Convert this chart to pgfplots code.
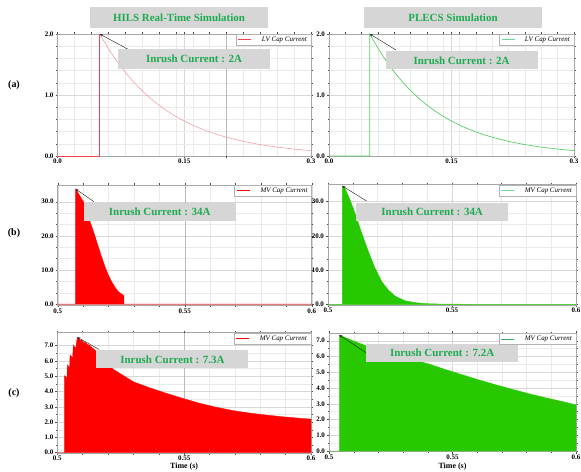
\documentclass[border=0pt]{standalone}
\usepackage{fontspec}
\setmainfont{Liberation Serif}
\usepackage{pgfplots}
\pgfplotsset{compat=1.18}
\usetikzlibrary{arrows.meta}

\definecolor{boxgray}{RGB}{214,214,214}
\definecolor{txtgreen}{RGB}{30,170,80}
\definecolor{fillred}{RGB}{255,0,0}
\definecolor{fillgreen}{RGB}{40,200,0}
\definecolor{hilsred}{rgb}{0.95,0.25,0.3}
\definecolor{hilspink}{RGB}{245,160,165}
\definecolor{plecsgreen}{RGB}{90,205,100}
\definecolor{leggreen}{RGB}{110,215,150}
\definecolor{legdkgreen}{rgb}{0.2,0.68,0.37}
\definecolor{gridminor}{RGB}{234,234,234}
\definecolor{gridmajor}{RGB}{215,215,215}
\definecolor{griddark}{RGB}{185,185,185}

\tikzset{
  note/.style={fill=boxgray, text=txtgreen, font=\fontsize{11}{12}\selectfont\bfseries,
    inner sep=0pt, minimum width=152bp, minimum height=18bp},
  arr/.style={black!85, line width=0.45pt, -{Stealth[length=3bp,width=2.4bp]}},
}

\pgfplotsset{
  panel/.style={
    scale only axis, anchor=south west, clip=false,
    axis line style={gray!70, line width=0.6pt},
    tick align=outside, major tick length=2bp, minor tick length=1.5bp,
    tick style={black!70, line width=0.4pt},
    grid=both,
    major grid style={gridmajor, line width=0.4pt},
    minor grid style={gridminor, line width=0.4pt},
    tick label style={font=\fontsize{7}{8}\selectfont\bfseries},
    xticklabel style={yshift=2.5bp},
    yticklabel style={xshift=1.5bp},
    legend style={at={(1,1)}, anchor=north east, draw=gray!60, fill=white,
      font=\fontsize{7}{8}\selectfont\itshape, inner xsep=2bp, inner ysep=0.5bp,
      /tikz/every odd column/.append style={column sep=8bp}},
    legend image code/.code={\draw[#1] (0bp,0bp) -- (13bp,0bp);},
    legend cell align=left,
  },
  apanel/.style={panel, xmin=0, xmax=0.3, ymin=0, ymax=2,
    xtick={0,0.15,0.3}, xticklabels={0.0,0.15,0.3},
    ytick={0,1,2}, yticklabels={0.0,1.0,2.0},
    minor xtick={0.02,0.04,0.06,0.08,0.1,0.12,0.14,0.16,0.18,0.2,0.22,0.24,0.26,0.28},
    minor ytick={0.2,0.4,0.6,0.8,1.2,1.4,1.6,1.8}},
  bpanel/.style={panel, xmin=0.5, xmax=0.6,
    xtick={0.5,0.55,0.6}, xticklabels={0.5,0.55,0.6},
    ytick={0,10,20,30}, yticklabels={0.0,10.0,20.0,30.0},
    minor xtick={0.51,0.52,0.53,0.54,0.56,0.57,0.58,0.59}, minor y tick num=2},
  cpanel/.style={panel, xmin=0.5, xmax=0.6,
    xtick={0.5,0.55,0.6}, xticklabels={0.5,0.55,0.6},
    ytick={0,1,2,3,4,5,6,7}, yticklabels={0.0,1.0,2.0,3.0,4.0,5.0,6.0,7.0},
    minor xtick={0.51,0.52,0.53,0.54,0.56,0.57,0.58,0.59}, minor y tick num=1,
    xlabel={Time (s)},
    xlabel style={font=\fontsize{8}{9}\selectfont\bfseries, at={(axis description cs:0.5,0)},
      anchor=north, inner sep=0pt}},
}

\begin{document}
\begin{tikzpicture}
\useasboundingbox (0,0) rectangle (581bp,472bp);

% ---------- (a) left: HILS ----------
\begin{axis}[apanel, at={(57.5bp,316bp)}, width=253.5bp, height=122bp,
  extra x ticks={0.2}, extra x tick labels={}, extra x tick style={major grid style={griddark}}]
\addlegendimage{draw=hilsred, line width=1pt}
\addlegendentry{LV Cap Current}
\addplot[draw=hilsred, line width=0.7pt, forget plot] coordinates {(0,0) (0.05,0) (0.05,2)};
\addplot[draw=hilspink, line width=0.6pt, forget plot] coordinates {
(0.05,2.0) (0.06,1.765) (0.07,1.558) (0.08,1.375) (0.09,1.213) (0.10,1.071)
(0.11,0.945) (0.12,0.834) (0.13,0.736) (0.14,0.649) (0.15,0.573) (0.16,0.506)
(0.17,0.446) (0.18,0.394) (0.19,0.348) (0.20,0.307) (0.22,0.239) (0.24,0.186)
(0.26,0.145) (0.28,0.113) (0.30,0.088)};
\draw[arr] (rel axis cs:0.279,0.874) -- (axis cs:0.05,2);
\node[note, minimum height=20bp] at (rel axis cs:0.5385,0.795) {Inrush Current : 2A};
\end{axis}

% ---------- (a) right: PLECS ----------
\begin{axis}[apanel, at={(329bp,316bp)}, width=245bp, height=122bp]
\addlegendimage{draw=leggreen, line width=1pt}
\addlegendentry{LV Cap Current}
\addplot[draw=plecsgreen, line width=0.7pt, forget plot] coordinates {
(0,0) (0.05,0) (0.05,2.0) (0.06,1.765) (0.07,1.558) (0.08,1.375) (0.09,1.213) (0.10,1.071)
(0.11,0.945) (0.12,0.834) (0.13,0.736) (0.14,0.649) (0.15,0.573) (0.16,0.506)
(0.17,0.446) (0.18,0.394) (0.19,0.348) (0.20,0.307) (0.22,0.239) (0.24,0.186)
(0.26,0.145) (0.28,0.113) (0.30,0.088)};
\draw[arr] (rel axis cs:0.273,0.869) -- (axis cs:0.05,2);
\node[note] at (rel axis cs:0.541,0.784) {Inrush Current : 2A};
\end{axis}

% ---------- (b) left: HILS ----------
\begin{axis}[bpanel, at={(57.7bp,166.5bp)}, width=254bp, height=120.5bp, ymin=-0.4, ymax=34.9,
  extra x ticks={0.55}, extra x tick labels={}, extra x tick style={major grid style={griddark}}]
\addlegendimage{draw=fillred, line width=1pt}
\addlegendentry{MV Cap Current}
\addplot[fill=fillred, draw=fillred, line width=0.4pt, forget plot] coordinates {
(0.5,0) (0.50708,0) (0.50708,33.7) (0.5085,32.0) (0.5101,30.0) (0.5115,27.0)
(0.5127,24.2) (0.5145,20.3) (0.516,16.8) (0.5173,13.8) (0.5186,11.0) (0.5199,8.6)
(0.5212,6.6) (0.5225,5.0) (0.5238,3.7) (0.525,3.0) (0.5261,2.5) (0.5261,0) (0.6,0)} \closedcycle;
\draw[arr] (rel axis cs:0.143,0.861) -- (axis cs:0.50708,33.7);
\node[note] at (rel axis cs:0.4016,0.778) {Inrush Current : 34A};
\end{axis}

% ---------- (b) right: PLECS ----------
\begin{axis}[bpanel, at={(328bp,167bp)}, width=248bp, height=120.3bp, ymin=-0.2, ymax=34.97]
\addlegendimage{draw=leggreen, line width=1pt}
\addlegendentry{MV Cap Current}
\addplot[fill=fillgreen, draw=fillgreen, line width=0.4pt, forget plot] coordinates {
(0.5,0) (0.50577,0) (0.50577,34.6) (0.50685,33.9) (0.5089,30.5) (0.5109,26.6)
(0.5136,20.8) (0.5163,15.4) (0.519,10.5) (0.5217,6.6) (0.5243,4.2) (0.527,2.4)
(0.531,1.05) (0.5351,0.5) (0.5391,0.2) (0.545,0.08) (0.555,0.02) (0.6,0)} \closedcycle;
\draw[arr] (rel axis cs:0.156,0.864) -- (axis cs:0.50577,34.6);
\node[note] at (rel axis cs:0.420,0.775) {Inrush Current : 34A};
\end{axis}

% ---------- (c) left: HILS ----------
\begin{axis}[cpanel, at={(57.3bp,18.7bp)}, width=253.7bp, height=120.6bp, ymin=-0.04, ymax=7.85,
  xlabel style={yshift=-9.4bp},
  extra x ticks={0.55}, extra x tick labels={}, extra x tick style={major grid style={griddark}}]
\addlegendimage{draw=fillred, line width=1pt}
\addlegendentry{MV Cap Current}
\addplot[fill=fillred, draw=fillred, line width=0.3pt, forget plot] coordinates {
(0.5,0) (0.50277,0) (0.50277,5.04) (0.50385,4.90) (0.50394,5.74) (0.50487,5.58)
(0.50500,6.39) (0.50605,6.21) (0.50632,7.04) (0.50724,6.83) (0.5079,7.55)
(0.5092,7.33) (0.5094,7.40) (0.5107,7.18) (0.5109,7.24) (0.5122,7.02) (0.5124,7.07)
(0.5138,6.86) (0.5155,6.62) (0.517,6.32) (0.519,5.95) (0.5221,5.45) (0.526,5.05)
(0.53,4.64) (0.5365,4.24) (0.5431,3.88) (0.5497,3.54) (0.5562,3.23) (0.5628,2.97)
(0.5694,2.75) (0.576,2.59) (0.5825,2.46) (0.589,2.35) (0.5957,2.25) (0.6,2.2) (0.6,0)} \closedcycle;
\draw[arr] (rel axis cs:0.164,0.862) -- (axis cs:0.5079,7.55);
\node[note] at (rel axis cs:0.454,0.778) {Inrush Current : 7.3A};
\end{axis}

% ---------- (c) right: PLECS ----------
\begin{axis}[cpanel, at={(329bp,20.3bp)}, width=247bp, height=118.4bp, ymin=-0.04, ymax=7.47,
  xlabel style={yshift=-11bp}]
\addlegendimage{draw=legdkgreen, line width=1pt}
\addlegendentry{MV Cap Current}
\addplot[fill=fillgreen, draw=fillgreen, line width=0.3pt, forget plot] coordinates {
(0.5,0) (0.50417,0) (0.50417,7.36) (0.51,6.98) (0.515,6.68) (0.52,6.42) (0.525,6.18)
(0.53,5.96) (0.535,5.76) (0.5409,5.5) (0.5476,5.15) (0.5544,4.82) (0.561,4.5)
(0.5679,4.19) (0.5746,3.9) (0.5814,3.62) (0.588,3.37) (0.5949,3.13) (0.6,2.93) (0.6,0)} \closedcycle;
\draw[arr] (rel axis cs:0.150,0.836) -- (axis cs:0.50417,7.36);
\node[note] at (rel axis cs:0.458,0.835) {Inrush Current : 7.2A};
\end{axis}

% ---------- titles and row labels ----------
\node[fill=boxgray, text=txtgreen, font=\fontsize{11}{12}\selectfont\bfseries,
  minimum width=178bp, minimum height=21bp, inner sep=0pt] at (179bp,454.5bp) {HILS Real-Time Simulation};
\node[fill=boxgray, text=txtgreen, font=\fontsize{11}{12}\selectfont\bfseries,
  minimum width=178bp, minimum height=21bp, inner sep=0pt] at (453bp,454.5bp) {PLECS Simulation};
\node[font=\fontsize{10}{12}\selectfont\bfseries] at (14bp,387bp) {(a)};
\node[font=\fontsize{10}{12}\selectfont\bfseries] at (14bp,239bp) {(b)};
\node[font=\fontsize{10}{12}\selectfont\bfseries] at (14bp,79bp) {(c)};
\end{tikzpicture}
\end{document}
